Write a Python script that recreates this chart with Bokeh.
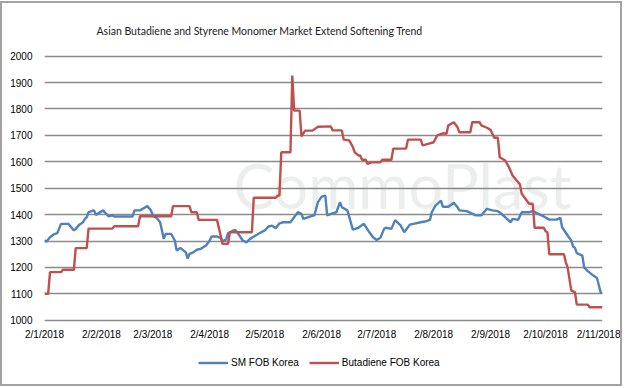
from datetime import datetime
from bokeh.plotting import figure
from bokeh.models import Range1d, FixedTicker, Label, Legend, LegendItem
from bokeh.embed import file_html
from bokeh.resources import INLINE

title_text = "Asian Butadiene and Styrene Monomer Market Extend Softening Trend"
x_tick_labels = ["2/1/2018", "2/2/2018", "2/3/2018", "2/4/2018", "2/5/2018", "2/6/2018",
                 "2/7/2018", "2/8/2018", "2/9/2018", "2/10/2018", "2/11/2018"]
y_ticks = [1000, 1100, 1200, 1300, 1400, 1500, 1600, 1700, 1800, 1900, 2000]

sm_name = "SM FOB Korea"
sm_dates = ["2018-01-02", "2018-01-03", "2018-01-05", "2018-01-07", "2018-01-09", "2018-01-11",
            "2018-01-15", "2018-01-18", "2018-01-19", "2018-01-21", "2018-01-23", "2018-01-24",
            "2018-01-25", "2018-01-26", "2018-01-29", "2018-01-30", "2018-02-03", "2018-02-04",
            "2018-02-06", "2018-02-08", "2018-02-09", "2018-02-19", "2018-02-20", "2018-02-23",
            "2018-02-27", "2018-03-01", "2018-03-02", "2018-03-04", "2018-03-06", "2018-03-08",
            "2018-03-09", "2018-03-12", "2018-03-14", "2018-03-15", "2018-03-17", "2018-03-20",
            "2018-03-21", "2018-03-22", "2018-03-24", "2018-03-26", "2018-03-28", "2018-03-31",
            "2018-04-02", "2018-04-03", "2018-04-06", "2018-04-08", "2018-04-09", "2018-04-11",
            "2018-04-12", "2018-04-14", "2018-04-16", "2018-04-17", "2018-04-20", "2018-04-22",
            "2018-04-24", "2018-04-27", "2018-04-30", "2018-05-02", "2018-05-04", "2018-05-06",
            "2018-05-08", "2018-05-10", "2018-05-12", "2018-05-16", "2018-05-18", "2018-05-20",
            "2018-05-22", "2018-05-23", "2018-05-27", "2018-05-29", "2018-05-30", "2018-05-31",
            "2018-06-02", "2018-06-04", "2018-06-05", "2018-06-07", "2018-06-10", "2018-06-12",
            "2018-06-13", "2018-06-16", "2018-06-19", "2018-06-22", "2018-06-25", "2018-06-28",
            "2018-06-30", "2018-07-02", "2018-07-04", "2018-07-06", "2018-07-07", "2018-07-10",
            "2018-07-12", "2018-07-15", "2018-07-17", "2018-07-20", "2018-07-22", "2018-07-26",
            "2018-07-29", "2018-07-31", "2018-08-01", "2018-08-03", "2018-08-06", "2018-08-07",
            "2018-08-10", "2018-08-13", "2018-08-15", "2018-08-16", "2018-08-20", "2018-08-25",
            "2018-08-28", "2018-08-31", "2018-09-03", "2018-09-06", "2018-09-08", "2018-09-13",
            "2018-09-14", "2018-09-17", "2018-09-19", "2018-09-23", "2018-09-25", "2018-09-28",
            "2018-10-01", "2018-10-04", "2018-10-08", "2018-10-10", "2018-10-11", "2018-10-14",
            "2018-10-16", "2018-10-17", "2018-10-18", "2018-10-19", "2018-10-22", "2018-10-23",
            "2018-10-25", "2018-10-28", "2018-10-30", "2018-11-01", "2018-11-02"]
sm_values = [1303, 1297, 1314, 1325, 1330, 1365,
             1365, 1340, 1346, 1362, 1371, 1384,
             1390, 1409, 1416, 1399, 1416, 1407,
             1393, 1397, 1393, 1393, 1416, 1416,
             1432, 1416, 1397, 1388, 1371, 1308,
             1327, 1327, 1302, 1264, 1274, 1257,
             1233, 1251, 1257, 1267, 1270, 1283,
             1302, 1317, 1317, 1312, 1299, 1306,
             1330, 1337, 1342, 1333, 1302, 1295,
             1308, 1321, 1333, 1340, 1355, 1358,
             1348, 1367, 1371, 1371, 1390, 1409,
             1403, 1384, 1393, 1397, 1422, 1447,
             1468, 1472, 1397, 1403, 1409, 1447,
             1428, 1416, 1343, 1350, 1365, 1333,
             1314, 1304, 1312, 1346, 1350, 1346,
             1379, 1359, 1333, 1362, 1365, 1371,
             1375, 1380, 1409, 1434, 1453, 1430,
             1430, 1445, 1428, 1416, 1413, 1397,
             1397, 1422, 1416, 1413, 1403, 1371,
             1384, 1380, 1409, 1409, 1413, 1403,
             1393, 1381, 1381, 1388, 1352, 1321,
             1302, 1279, 1274, 1254, 1245, 1200,
             1186, 1169, 1160, 1106, 1102]

bd_name = "Butadiene FOB Korea"
bd_dates = ["2018-01-02", "2018-01-04", "2018-01-05", "2018-01-11", "2018-01-12", "2018-01-18",
            "2018-01-19", "2018-01-25", "2018-01-26", "2018-02-08", "2018-02-09", "2018-02-22",
            "2018-02-23", "2018-03-12", "2018-03-13", "2018-03-22", "2018-03-23", "2018-03-26",
            "2018-03-27", "2018-04-06", "2018-04-09", "2018-04-12", "2018-04-13", "2018-04-25",
            "2018-04-26", "2018-05-08", "2018-05-09", "2018-05-10", "2018-05-11", "2018-05-16",
            "2018-05-17", "2018-05-18", "2018-05-21", "2018-05-22", "2018-05-24", "2018-05-28",
            "2018-05-31", "2018-06-07", "2018-06-08", "2018-06-13", "2018-06-14", "2018-06-17",
            "2018-06-19", "2018-06-20", "2018-06-22", "2018-06-23", "2018-06-24", "2018-06-26",
            "2018-06-27", "2018-06-29", "2018-07-04", "2018-07-05", "2018-07-10", "2018-07-11",
            "2018-07-18", "2018-07-19", "2018-07-26", "2018-07-27", "2018-07-30", "2018-08-02",
            "2018-08-04", "2018-08-07", "2018-08-09", "2018-08-10", "2018-08-13", "2018-08-15",
            "2018-08-16", "2018-08-22", "2018-08-23", "2018-08-27", "2018-08-28", "2018-08-31",
            "2018-09-02", "2018-09-04", "2018-09-06", "2018-09-07", "2018-09-10", "2018-09-12",
            "2018-09-14", "2018-09-18", "2018-09-19", "2018-09-23", "2018-09-25", "2018-09-26",
            "2018-10-01", "2018-10-02", "2018-10-03", "2018-10-04", "2018-10-12", "2018-10-13",
            "2018-10-14", "2018-10-16", "2018-10-18", "2018-10-19", "2018-10-25", "2018-10-26",
            "2018-11-02"]
bd_values = [1100, 1100, 1182, 1182, 1191, 1191,
             1273, 1273, 1347, 1347, 1356, 1356,
             1394, 1394, 1432, 1432, 1409, 1409,
             1380, 1380, 1289, 1289, 1333, 1333,
             1464, 1464, 1472, 1472, 1636, 1636,
             1927, 1794, 1794, 1696, 1718, 1718,
             1733, 1734, 1719, 1719, 1684, 1681,
             1656, 1636, 1624, 1624, 1608, 1608,
             1592, 1598, 1598, 1608, 1608, 1650,
             1650, 1684, 1684, 1662, 1668, 1674,
             1700, 1708, 1706, 1738, 1750, 1731,
             1712, 1712, 1750, 1750, 1738, 1729,
             1721, 1691, 1691, 1617, 1605, 1580,
             1548, 1515, 1479, 1441, 1441, 1350,
             1350, 1337, 1333, 1250, 1250, 1220,
             1200, 1112, 1106, 1059, 1059, 1049,
             1049]

FONT = "Liberation Sans"


def to_dt(s):
    return datetime.strptime(s, "%Y-%m-%d")


def tick_dt(lbl):
    return datetime.strptime(lbl, "%d/%m/%Y")


def ms(dt):
    return int((dt - datetime(1970, 1, 1)).total_seconds() * 1000)


# frame spans down to the legend row; 1000 sits where the reference's bottom gridline is
p = figure(width=622, height=385, x_axis_type="datetime",
           output_backend="svg", toolbar_location=None,
           x_range=Range1d(tick_dt(x_tick_labels[0]), tick_dt(x_tick_labels[-1])),
           y_range=Range1d(783.0, 2006.4),
           min_border_left=42, min_border_right=22, min_border_top=51, min_border_bottom=11,
           margin=(1, 0, 0, 0),
           styles={"border": "2px solid #a3a3a3"})
p.outline_line_color = None
p.background_fill_color = "white"
p.border_fill_color = "white"

# title
p.title.text = title_text
p.title.align = "left"
p.title.offset = 52
p.title.standoff = 36
p.title.text_font = "Lato"
p.title.text_font_style = "normal"
p.title.text_font_size = "10.5px"
p.title.text_color = "#1a1a1a"

# axes
tick_ms = [ms(tick_dt(l)) for l in x_tick_labels]
p.xaxis.ticker = FixedTicker(ticks=tick_ms)
p.xaxis.major_label_overrides = {t: l for t, l in zip(tick_ms, x_tick_labels)}
p.yaxis.ticker = FixedTicker(ticks=y_ticks)
for ax in (p.xaxis, p.yaxis):
    ax.axis_line_color = None
    ax.major_tick_line_color = None
    ax.minor_tick_line_color = None
    ax.major_tick_out = 0
    ax.major_tick_in = 0
    ax.minor_tick_out = 0
    ax.minor_tick_in = 0
    ax.major_label_text_font = FONT
    ax.major_label_text_font_size = "10px"
    ax.major_label_text_color = "#000000"
p.xaxis.major_label_standoff = -49
p.yaxis.major_label_standoff = 12

p.xgrid.grid_line_color = None
p.ygrid.ticker = FixedTicker(ticks=y_ticks)
p.ygrid.grid_line_color = "#8a8a8a"
p.ygrid.grid_line_width = 1.7

# watermark
wm = Label(x=358, y=192, x_units="screen", y_units="screen", text="CommoPlast",
           text_align="center", text_baseline="middle", text_font="Lato",
           text_font_size="61px", text_color="#eceeee", level="image")
p.add_layout(wm)

# series
r_sm = p.line([to_dt(d) for d in sm_dates], sm_values, color="#4F81BD", line_width=2.4)
r_bd = p.line([to_dt(d) for d in bd_dates], bd_values, color="#C0504D", line_width=2.4)

legend = Legend(items=[LegendItem(label=sm_name, renderers=[r_sm]),
                       LegendItem(label=bd_name, renderers=[r_bd])],
                orientation="horizontal", location=(154, 8),
                background_fill_alpha=0, border_line_color=None,
                padding=0, margin=0, spacing=10, glyph_width=30, glyph_height=13,
                label_height=13, label_standoff=3, label_text_font=FONT,
                label_text_font_size="10px", label_text_color="#000000")
p.add_layout(legend)

open("out.html", "w").write(file_html(p, INLINE))
